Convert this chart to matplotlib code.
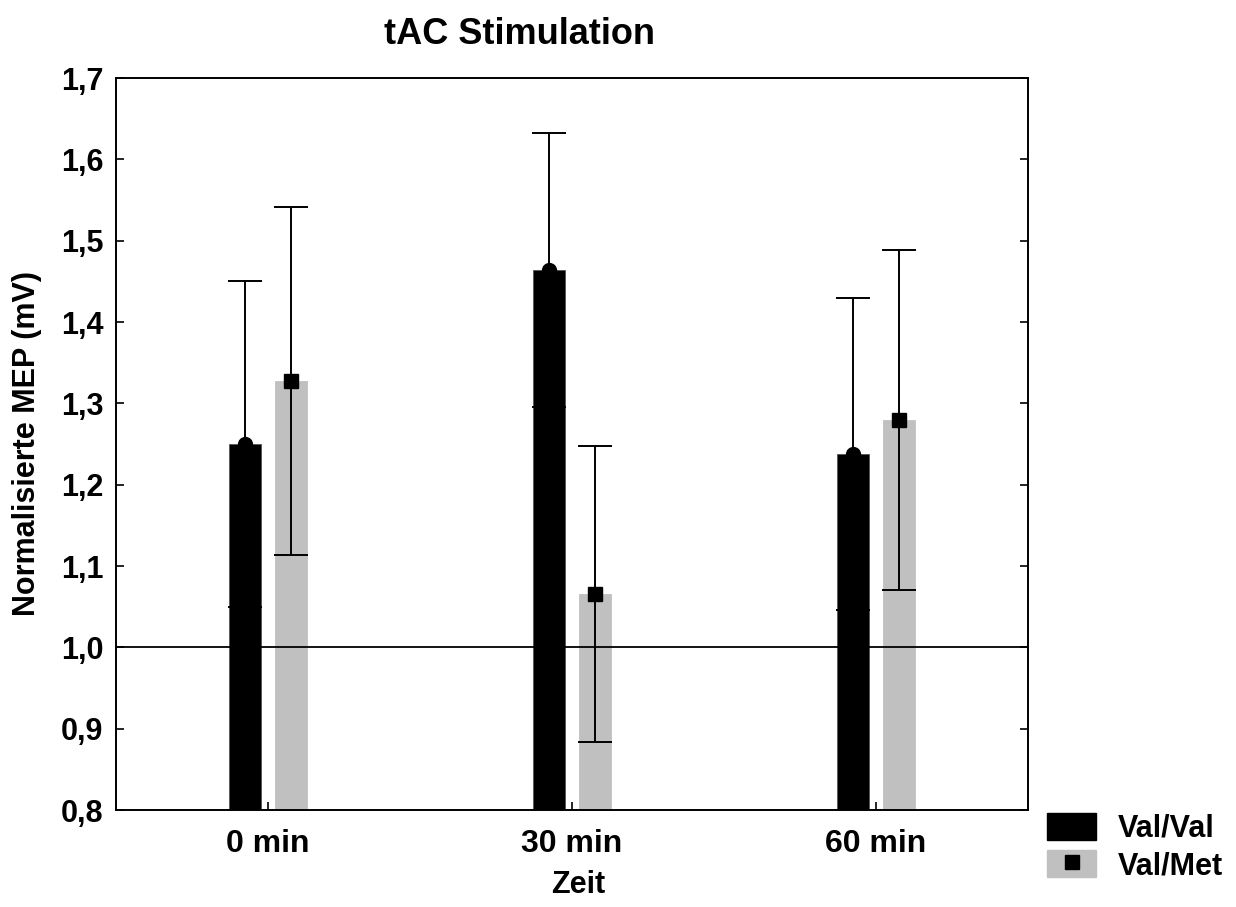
import numpy as np
import matplotlib
matplotlib.use('Agg')
import matplotlib.pyplot as plt
from matplotlib.patches import Patch
from matplotlib.lines import Line2D
from matplotlib.ticker import FuncFormatter

plt.rcParams['font.family'] = ['Liberation Sans', 'DejaVu Sans']
plt.rcParams['font.weight'] = 'bold'

# Daten
zeiten = ['0 min', '30 min', '60 min']
gruppen = ['Val/Val', 'Val/Met']
val_val = [1.250, 1.464, 1.238]
val_val_err = [0.200, 0.168, 0.192]
val_met = [1.328, 1.066, 1.279]
val_met_err = [0.214, 0.182, 0.209]

fig = plt.figure(figsize=(12.36, 9.07), dpi=100)
ax = fig.add_axes([0.0939, 0.1069, 0.7379, 0.8071])

x = np.arange(len(zeiten))
breite = 0.105
versatz = 0.075

ax.bar(x - versatz, val_val, breite, bottom=0, color='black', edgecolor='#555555', linewidth=0.6, zorder=2)
ax.bar(x + versatz, val_met, breite, bottom=0, color='#c0c0c0', edgecolor='#c0c0c0', linewidth=0.6, zorder=2)

ax.axhline(1.0, color='black', linewidth=1.3, zorder=3)

ax.errorbar(x - versatz, val_val, yerr=val_val_err, fmt='o', color='black', ecolor='black',
            elinewidth=1.4, capsize=12, capthick=1.4, markersize=10, zorder=4)
ax.errorbar(x + versatz, val_met, yerr=val_met_err, fmt='s', color='black', ecolor='black',
            elinewidth=1.4, capsize=12, capthick=1.4, markersize=10, zorder=4)

ax.set_xlim(-0.5, 2.5)
ax.set_ylim(0.8, 1.7)
ax.set_xticks(x)
ax.set_xticklabels(zeiten, fontsize=23, fontweight='bold')
ax.set_yticks(np.arange(0.8, 1.71, 0.1))
ax.yaxis.set_major_formatter(FuncFormatter(lambda v, p: ('%.1f' % v).replace('.', ',')))
for t in ax.get_yticklabels():
    t.set_fontsize(22)
    t.set_fontweight('bold')
ax.tick_params(axis='y', direction='in', left=True, right=True, length=6, width=1.2, pad=9)
ax.tick_params(axis='x', direction='in', bottom=True, length=6, width=1.2, pad=14)
for s in ax.spines.values():
    s.set_linewidth(1.4)

# Achsentitel
fig.text(578 / 1236, 1 - 885 / 907, 'Zeit', fontsize=22, fontweight='bold', ha='center', va='center')
fig.text(27 / 1236, 1 - 444 / 907, 'Normalisierte MEP (mV)', fontsize=22, fontweight='bold',
         ha='center', va='center', rotation=90)
fig.text(519 / 1236, 1 - 35 / 907, 'tAC Stimulation', fontsize=26, fontweight='bold',
         ha='center', va='center')

handles = [Patch(facecolor='black', edgecolor='black'),
           (Patch(facecolor='#c0c0c0', edgecolor='#c0c0c0'),
            Line2D([], [], marker='s', color='black', linestyle='none', markersize=10))]
fig.legend(handles, gruppen, loc='center left', bbox_to_anchor=(1041 / 1236, 1 - 847 / 907),
           frameon=False, prop={'size': 22, 'weight': 'bold'}, handlelength=1.6, handleheight=1.0,
           handletextpad=0.7, labelspacing=0.2, borderpad=0.2, borderaxespad=0)

fig.savefig('out.png', dpi=100)
